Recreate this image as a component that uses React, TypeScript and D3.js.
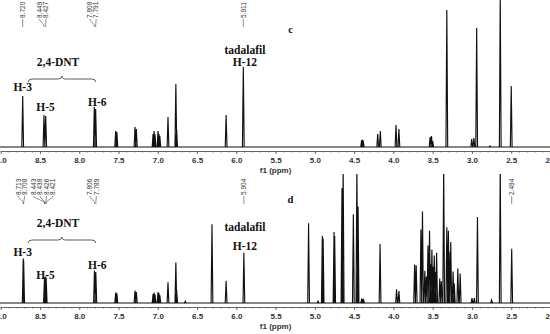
import React, { useEffect, useRef } from 'react';
import * as d3 from 'd3';

// spectrum c (top): [ppm, intensity in % of panel height]
const peaksC: [number, number][] = [
  [8.72, 34.7],
  [8.449, 21.8], [8.427, 21.1],
  [7.808, 27.2], [7.791, 25.9],
  [7.536, 10.9], [7.521, 10.2],
  [7.29, 13.6], [7.273, 12.2],
  [7.06, 8.8], [7.047, 10.9], [7.035, 8.5],
  [6.997, 10.9], [6.985, 8.8], [6.974, 7.5],
  [6.87, 20.4],
  [6.77, 42.9], [6.76, 12],
  [6.13, 21.8],
  [5.911, 54.4],
  [4.405, 4.5], [4.395, 4.8], [4.385, 4.3],
  [4.2, 8.8], [4.167, 10.9],
  [3.967, 15.0], [3.93, 12.2],
  [3.533, 6.8], [3.515, 7.5], [3.5, 4],
  [3.32, 93.2],
  [3.003, 5.4], [2.975, 6.1],
  [2.94, 81.0],
  [2.77, 0.7],
  [2.64, 104],
  [2.5, 41.5],
];

// spectrum d (bottom)
const peaksD: [number, number][] = [
  [8.713, 34.4], [8.708, 33],
  [8.443, 19], [8.438, 20.4], [8.426, 20.4], [8.421, 19],
  [7.806, 25.2], [7.789, 24],
  [7.536, 8.1], [7.521, 7.5],
  [7.29, 9.7], [7.273, 8.5],
  [7.06, 7], [7.047, 8.1], [7.035, 6.5],
  [6.997, 8.4], [6.985, 7.5], [6.974, 6],
  [6.87, 16],
  [6.77, 31.3], [6.76, 10],
  [6.65, 1.3],
  [6.31, 61],
  [6.13, 17.3],
  [5.904, 38.9],
  [5.08, 61.8],
  [4.96, 1.5],
  [4.905, 51.9], [4.895, 50],
  [4.756, 55], [4.748, 52],
  [4.655, 89], [4.64, 105],
  [4.51, 68.7],
  [4.465, 105], [4.45, 74.8],
  [4.405, 2.5], [4.392, 3], [4.38, 2.3],
  [4.17, 45.8],
  [3.96, 10.7], [3.93, 9.2],
  [3.73, 29.8], [3.71, 29.2],
  [3.65, 57], [3.63, 71],
  [3.6, 25], [3.58, 20.6],
  [3.56, 44.5], [3.54, 56], [3.525, 30],
  [3.51, 41.4], [3.495, 28], [3.48, 36.9], [3.465, 24], [3.45, 38.9],
  [3.41, 19], [3.39, 16.8],
  [3.36, 105],
  [3.32, 58.8],
  [3.3, 56], [3.29, 39.7], [3.27, 47.3],
  [3.24, 24.4], [3.225, 15],
  [3.18, 26.7], [3.15, 22.9],
  [3.0, 3.8], [2.97, 3.8],
  [2.93, 66.6],
  [2.75, 2.3],
  [2.64, 105],
  [2.494, 42],
];

const labelsC = [8.72, 8.449, 8.427, 7.808, 7.791, 5.911];
const labelsD = [8.713, 8.708, 8.443, 8.438, 8.426, 8.421, 7.806, 7.789, 5.904, 2.494];

const tickValues = d3.range(4, 19).map(v => v / 2);
const minorTicks = d3.range(20, 91).map(v => v / 10);

const W = 550;
const H = 334;
const peakHalfWidth = 0.011;

const x = d3.scaleLinear().domain([9.0, 2.0]).range([0.7, 550.5]);

const serif = "'Liberation Serif', 'Times New Roman', serif";
const sans = "'Liberation Sans', Arial, sans-serif";

type Panel = {
  id: string;
  peaks: [number, number][];
  labels: number[];
  base: number;
  top: number;
  axisY: number;
  titleY: number;
  labelBottom: number;
  letter: string;
  letterY: number;
  dntY: number;
  braceY: number;
  h3Y: number;
  h5Y: number;
  h6Y: number;
  tadY: number;
  h12Y: number;
};

const panels: Panel[] = [
  {
    id: 'c', peaks: peaksC, labels: labelsC, base: 147, top: 0, axisY: 151, titleY: 173,
    labelBottom: 18, letter: 'c', letterY: 33, dntY: 66, braceY: 76, h3Y: 91, h5Y: 111, h6Y: 106,
    tadY: 54, h12Y: 66,
  },
  {
    id: 'd', peaks: peaksD, labels: labelsD, base: 303, top: 174, axisY: 307, titleY: 329,
    labelBottom: 195, letter: 'd', letterY: 203, dntY: 227, braceY: 237, h3Y: 256, h5Y: 279, h6Y: 269,
    tadY: 231, h12Y: 250,
  },
];

function Axis({ y }: { y: number }) {
  const major = useRef<SVGGElement>(null);
  const minor = useRef<SVGGElement>(null);
  useEffect(() => {
    d3.select(major.current!)
      .call(
        d3.axisBottom(x).tickValues(tickValues).tickSize(3).tickSizeOuter(0).tickPadding(3)
          .tickFormat(d3.format('.1f') as any)
      );
    d3.select(minor.current!)
      .call(d3.axisBottom(x).tickValues(minorTicks).tickSize(1.5).tickSizeOuter(0).tickFormat(() => ''));
    const both = d3.selectAll([major.current!, minor.current!]);
    both.selectAll('path.domain').attr('stroke', '#555').attr('stroke-width', 0.9);
    both.selectAll('line').attr('stroke', '#555').attr('stroke-width', 0.8);
    d3.select(minor.current!).select('path.domain').remove();
    d3.select(major.current!).selectAll('text')
      .attr('font-family', sans).attr('font-size', 8).attr('font-weight', 'bold').attr('fill', '#333');
  }, []);
  return (
    <g transform={`translate(0,${y})`}>
      <g ref={major} />
      <g ref={minor} />
    </g>
  );
}

function Spectrum({ p }: { p: Panel }) {
  const y = d3.scaleLinear().domain([0, 100]).range([p.base, p.top]);
  const line = d3.line();
  const d = p.peaks
    .map(([ppm, h]) => line([[x(ppm + peakHalfWidth), y(0)], [x(ppm), y(h)], [x(ppm - peakHalfWidth), y(0)]]))
    .join('');
  const baseline = line([[x(9.0) - 1, y(0)], [x(2.0), y(0)]]);
  return (
    <g>
      <clipPath id={`clip-${p.id}`}>
        <rect x={0} y={p.top} width={W} height={p.base - p.top + 2} />
      </clipPath>
      <g clipPath={`url(#clip-${p.id})`}>
        <path d={baseline!} fill="none" stroke="#111" strokeWidth={1} />
        <path d={d} fill="none" stroke="#111" strokeWidth={1.15} strokeLinejoin="miter" />
      </g>
    </g>
  );
}

function PeakLabels({ p }: { p: Panel }) {
  const px = p.labels.map(v => x(v)).sort((a, b) => a - b);
  const vals = [...p.labels].sort((a, b) => b - a);
  const groups: number[][] = [];
  px.forEach((v, i) => {
    const g = groups[groups.length - 1];
    if (g && v - px[g[g.length - 1]] < 6.5) g.push(i);
    else groups.push([i]);
  });
  const pos: number[] = [];
  groups.forEach(g => {
    const c = d3.mean(g, i => px[i])! - (g.length > 1 ? 2 : 0);
    g.forEach((i, k) => { pos[i] = c + (k - (g.length - 1) / 2) * 6.3; });
  });
  const b = p.labelBottom;
  return (
    <g>
      {vals.map((v, i) => (
        <g key={i}>
          <text
            transform={`translate(${pos[i]},${b}) rotate(-90)`}
            dy="0.35em"
            fontFamily={sans}
            fontSize={6.5}
            fill="#333"
          >
            {v.toFixed(3)}
          </text>
          <path
            d={`M${pos[i]},${b + 1}L${pos[i]},${b + 2}L${px[i]},${b + 7}L${px[i]},${b + 9}`}
            fill="none"
            stroke="#444"
            strokeWidth={0.6}
          />
        </g>
      ))}
    </g>
  );
}

function Annotations({ p }: { p: Panel }) {
  const bl = x(8.65);
  const br = x(7.79);
  const bm = (bl + br) / 2;
  const by = p.braceY;
  const brace = `M${bl},${by + 6} Q${bl},${by + 3} ${bl + 4},${by + 3} L${bm - 4},${by + 3} Q${bm},${by + 3} ${bm},${by} Q${bm},${by + 3} ${bm + 4},${by + 3} L${br - 4},${by + 3} Q${br},${by + 3} ${br},${by + 6}`;
  const txt = { fontFamily: serif, fontWeight: 'bold' as const, fontSize: 11.5, fill: '#111', textAnchor: 'middle' as const };
  return (
    <g>
      <text x={x(8.27)} y={p.dntY} {...txt}>2,4-DNT</text>
      <path d={brace} fill="none" stroke="#333" strokeWidth={0.8} />
      <text x={x(8.72)} y={p.h3Y} {...txt}>H-3</text>
      <text x={x(8.43)} y={p.h5Y} {...txt}>H-5</text>
      <text x={x(7.77)} y={p.h6Y} {...txt}>H-6</text>
      <text x={x(5.89)} y={p.tadY} {...txt}>tadalafil</text>
      <text x={x(5.89)} y={p.h12Y} {...txt}>H-12</text>
      <text x={x(5.31)} y={p.letterY} {...txt} fontSize={10.5}>{p.letter}</text>
      <text x={x(5.5)} y={p.titleY} fontFamily={sans} fontSize={8} fontWeight="bold" fill="#333" textAnchor="middle">
        f1 (ppm)
      </text>
    </g>
  );
}

export default function App() {
  return (
    <>
      <style>{'body{margin:0}'}</style>
      <svg width={W} height={H} style={{ display: 'block', background: '#fff' }}>
        {panels.map(p => (
          <g key={p.id}>
            <Spectrum p={p} />
            <Axis y={p.axisY} />
            <PeakLabels p={p} />
            <Annotations p={p} />
          </g>
        ))}
      </svg>
    </>
  );
}
